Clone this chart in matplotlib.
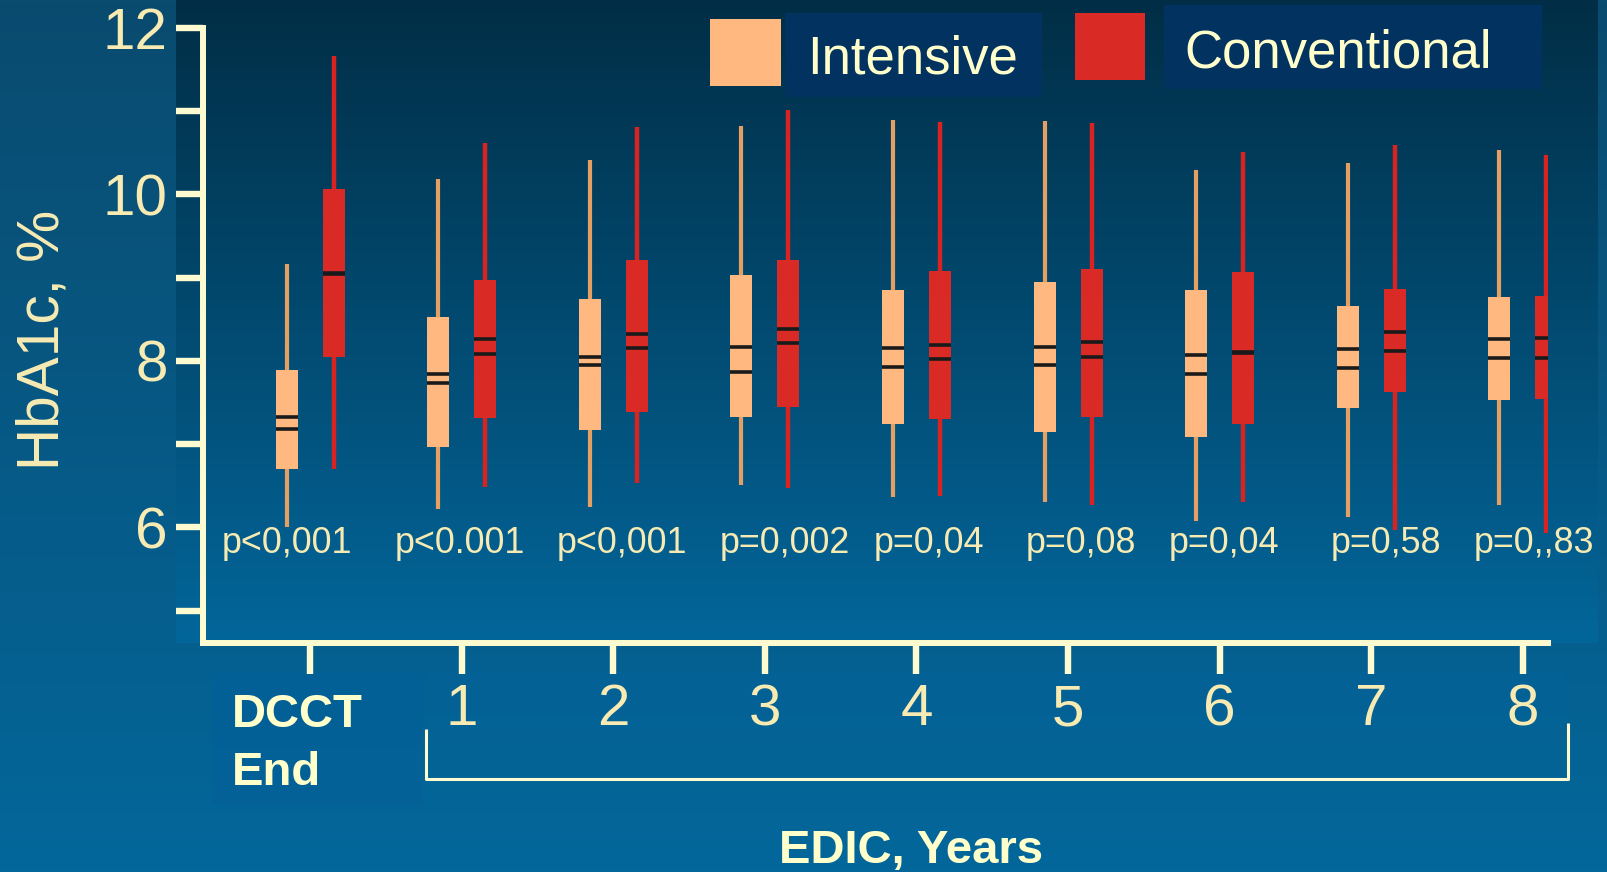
import numpy as np
import matplotlib
matplotlib.use("Agg")
import matplotlib.pyplot as plt
from matplotlib import font_manager

# --- data -------------------------------------------------------------
groups = ["DCCT", "1", "2", "3", "4", "5", "6", "7", "8"]
p_labels = ["p<0,001", "p<0.001", "p<0,001", "p=0,002", "p=0,04",
            "p=0,08", "p=0,04", "p=0,58", "p=0,,83"]

# intensive therapy
int_whi = [9.16, 10.18, 10.41, 10.82, 10.89, 10.88, 10.29, 10.38, 10.53]
int_q3 = [7.89, 8.53, 8.74, 9.03, 8.85, 8.95, 8.85, 8.66, 8.77]
int_mean = [7.33, 7.84, 8.05, 8.17, 8.15, 8.17, 8.07, 8.14, 8.26]
int_med = [7.18, 7.73, 7.95, 7.87, 7.93, 7.95, 7.84, 7.92, 8.03]
int_q1 = [6.70, 6.97, 7.17, 7.32, 7.24, 7.14, 7.09, 7.43, 7.53]
int_wlo = [6.00, 6.22, 6.25, 6.51, 6.37, 6.30, 6.08, 6.13, 6.27]

# conventional therapy
con_whi = [11.66, 10.62, 10.81, 11.02, 10.87, 10.86, 10.51, 10.59, 10.47]
con_q3 = [10.07, 8.97, 9.21, 9.21, 9.08, 9.10, 9.07, 8.86, 8.78]
con_mean = [9.06, 8.26, 8.32, 8.38, 8.19, 8.23, 8.11, 8.35, 8.27]
con_med = [9.05, 8.08, 8.15, 8.21, 8.02, 8.05, 8.10, 8.12, 8.04]
con_q1 = [8.05, 7.31, 7.39, 7.44, 7.30, 7.33, 7.24, 7.63, 7.54]
con_wlo = [6.70, 6.49, 6.53, 6.47, 6.38, 6.27, 6.31, 5.97, 5.93]

# --- style ------------------------------------------------------------
W, H = 1607, 872
names = {f.name for f in font_manager.fontManager.ttflist}
has_narrow = "Liberation Sans Narrow" in names
narrow = "Liberation Sans Narrow" if has_narrow else "Liberation Sans"
shrink = 1.0 if has_narrow else 0.86
wide = "Liberation Sans"

c_int, c_int_w = "#ffb880", "#e3a062"
c_con, c_con_w = "#d92a25", "#d82320"
axis_c = "#fffbd0"
txt_c = "#f7ebb3"
leg_txt = "#ffffcc"

fig = plt.figure(figsize=(W / 100, H / 100), dpi=100)

# background in pixel coordinates (y down)
bg = fig.add_axes([0, 0, 1, 1])
bg.set_xlim(0, W)
bg.set_ylim(H, 0)
bg.axis("off")


def grad(c0, c1, n=256):
    a = np.array(matplotlib.colors.to_rgb(c0))
    b = np.array(matplotlib.colors.to_rgb(c1))
    t = np.linspace(0, 1, n)[:, None]
    return (a + (b - a) * t)[:, None, :]


bg.imshow(grad("#0a4b6f", "#03679b"), extent=(0, W, H, 0), aspect="auto", zorder=0)
bg.imshow(grad("#012e46", "#03669a"), extent=(176, 1598, 643, 0), aspect="auto", zorder=1)
bg.add_patch(plt.Rectangle((212, 671), 211, 134, color="#03609a", alpha=0.6, zorder=2, lw=0))
bg.add_patch(plt.Rectangle((426, 671), 1140, 58, color="#03629a", alpha=0.5, zorder=2, lw=0))
bg.set_xlim(0, W)
bg.set_ylim(H, 0)

# legend
bg.add_patch(plt.Rectangle((710, 19), 71, 67, color=c_int, lw=0, zorder=3))
bg.add_patch(plt.Rectangle((785, 13), 257, 84, color="#02325f", lw=0, zorder=3))
bg.add_patch(plt.Rectangle((1075, 13), 70, 67, color=c_con, lw=0, zorder=3))
bg.add_patch(plt.Rectangle((1164, 5), 378, 84, color="#02325f", lw=0, zorder=3))
bg.text(807, 74, "Intensive", color=leg_txt, fontsize=38, family=wide,
        va="baseline", ha="left", zorder=4)
bg.text(1184, 67, "Conventional", color=leg_txt, fontsize=38, family=wide,
        va="baseline", ha="left", zorder=4)

# DCCT / EDIC labels and bracket
bg.text(232, 727, "DCCT", color=leg_txt, fontsize=34, family=wide,
        weight="bold", va="baseline", zorder=4)
bg.text(232, 785, "End", color=leg_txt, fontsize=34, family=wide,
        weight="bold", va="baseline", zorder=4)
bg.text(911, 863, "EDIC, Years", color=leg_txt, fontsize=34, family=wide,
        weight="bold", va="baseline", ha="center", zorder=4)
bg.plot([426, 426, 1568, 1568], [729, 779, 779, 723], color=axis_c, lw=2.2,
        solid_capstyle="butt", zorder=4)

fig.text(43 / W, 1 - 340 / H, "HbA1c, %", rotation=90, color=txt_c,
         fontsize=49 * shrink, family=narrow, ha="center", va="center")

# --- main axes --------------------------------------------------------
ax = fig.add_axes([203 / W, 1 - 643 / H, (1548 - 203) / W, (643 - 28) / H])
ax.patch.set_alpha(0)
ax.set_xlim(-0.706, 8.166)
ax.set_ylim(4.61, 12)

x = np.arange(len(groups))
off, bw = 0.155, 0.145
xi, xc = x - off, x + off

int_lo, int_hi = np.array(int_q1), np.array(int_q3)
con_lo, con_hi = np.array(con_q1), np.array(con_q3)

ax.vlines(xi, int_wlo, int_whi, color=c_int_w, lw=3, zorder=2)
ax.vlines(xc, con_wlo, con_whi, color=c_con_w, lw=3.2, zorder=2)
ax.bar(xi, int_hi - int_lo, bottom=int_lo, width=bw, color=c_int, zorder=3)
ax.bar(xc, con_hi - con_lo, bottom=con_lo, width=bw, color=c_con, zorder=3)
for xs, a, b in [(xi, int_mean, int_med), (xc, con_mean, con_med)]:
    ax.hlines(a, xs - bw / 2, xs + bw / 2, color="#1a1a1a", lw=2.6, zorder=4)
    ax.hlines(b, xs - bw / 2, xs + bw / 2, color="#1a1a1a", lw=2.6, zorder=4)

p_x = [-0.152, 0.989, 2.058, 3.133, 4.083, 5.086, 6.029, 7.098, 8.074]
for px, lab in zip(p_x, p_labels):
    ax.text(px, 5.69, lab, color=txt_c, fontsize=30 * shrink, family=narrow,
            ha="center", va="baseline", clip_on=False, zorder=5)

for s in ["top", "right"]:
    ax.spines[s].set_visible(False)
for s in ["left", "bottom"]:
    ax.spines[s].set_color(axis_c)
    ax.spines[s].set_linewidth(4.3)

ax.set_yticks(np.arange(5, 13))
ax.set_yticklabels(["", "6", "", "8", "", "10", "", "12"])
ax.set_xticks(x)
ax.set_xticklabels([""] + groups[1:])
ax.tick_params(axis="y", direction="out", length=19.5, width=4.6, color=axis_c,
               labelcolor=txt_c, labelsize=42, pad=6)
ax.tick_params(axis="x", direction="out", length=22, width=4.6, color=axis_c,
               labelcolor=txt_c, labelsize=42, pad=7)
for lab in ax.get_xticklabels() + ax.get_yticklabels():
    lab.set_family(narrow)

fig.savefig("out.png", dpi=100, facecolor="#03669a")
